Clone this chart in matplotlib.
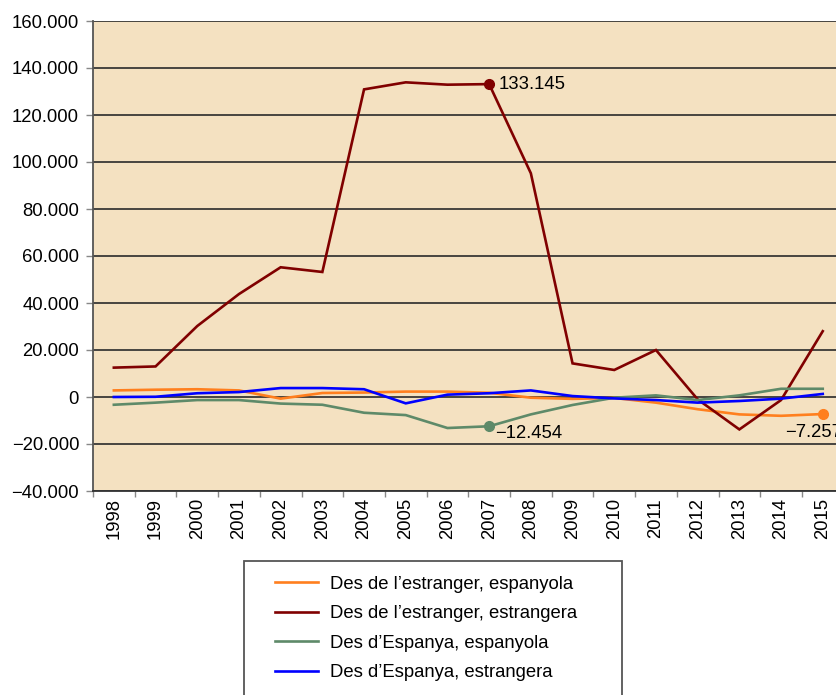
import matplotlib
matplotlib.use("Agg")
import matplotlib.pyplot as plt
from matplotlib.ticker import FuncFormatter, FixedLocator
from matplotlib.patches import Rectangle
from matplotlib.lines import Line2D

plt.rcParams['font.family'] = ['Liberation Sans', 'DejaVu Sans']

years = ['1998', '1999', '2000', '2001', '2002', '2003', '2004', '2005', '2006',
         '2007', '2008', '2009', '2010', '2011', '2012', '2013', '2014', '2015']

estranger_espanyola = [2800, 3100, 3300, 2800, -700, 1700, 1900, 2300, 2300,
                       1800, -300, -800, -400, -2400, -5200, -7400, -8000, -7257]
estranger_estrangera = [12500, 13000, 30200, 43800, 55200, 53200, 130900, 133900, 132900,
                        133145, 95200, 14300, 11500, 20000, -1000, -13800, -1300, 28000]
espanya_espanyola = [-3300, -2400, -1300, -1300, -2800, -3300, -6700, -7700, -13200,
                     -12454, -7400, -3400, -300, 700, -1300, 700, 3500, 3500]
espanya_estrangera = [0, 100, 1600, 2100, 3800, 3800, 3300, -2700, 1000,
                      1600, 2800, 400, -600, -1300, -2400, -1700, -700, 1300]

series_names = ['Des de l’estranger, espanyola', 'Des de l’estranger, estrangera',
                'Des d’Espanya, espanyola', 'Des d’Espanya, estrangera']
series_values = [estranger_espanyola, estranger_estrangera, espanya_espanyola, espanya_estrangera]
colors = ['#FF7F1E', '#800000', '#5E8A69', '#0000FF']

FS = 13.3
W, H = 836, 695
fig = plt.figure(figsize=(W / 100, H / 100), dpi=100)
fig.patch.set_facecolor('white')

left, right, top, bottom = 93, 843.6, 21, 491
ax = fig.add_axes([left / W, 1 - bottom / H, (right - left) / W, (bottom - top) / H])
ax.set_facecolor('#F4E1C1')

x = list(range(len(years)))
for vals, c, name in zip(series_values, colors, series_names):
    ax.plot(x, vals, color=c, lw=1.9, label=name, solid_joinstyle='miter', zorder=3)

ax.set_xlim(-0.5, len(years) - 0.5)
ax.set_ylim(-40000, 160000)
ax.set_yticks(range(-40000, 160001, 20000))

def fmt(v, pos):
    s = f"{abs(int(round(v))):,}".replace(',', '.')
    return ('−' + s) if v < 0 else s
ax.yaxis.set_major_formatter(FuncFormatter(fmt))
ax.grid(axis='y', color='#2a2a2a', lw=1.2, zorder=1)
ax.set_axisbelow(True)

ax.set_xticks(x)
ax.set_xticklabels(years, rotation=90)
ax.xaxis.set_minor_locator(FixedLocator([i - 0.5 for i in range(len(years) + 1)]))
ax.tick_params(axis='x', which='major', length=0, pad=5, labelsize=FS)
ax.tick_params(axis='x', which='minor', length=4, color='#888888', width=1)
ax.tick_params(axis='y', length=5, color='#888888', width=1, pad=5, labelsize=FS)

for s in ['top', 'right']:
    ax.spines[s].set_visible(False)
ax.spines['left'].set_color('#555555')
ax.spines['left'].set_linewidth(1.3)
ax.spines['bottom'].set_color('#333333')
ax.spines['bottom'].set_linewidth(1.3)

# highlighted points
i07 = years.index('2007')
i15 = years.index('2015')
ax.plot(x[i07], estranger_estrangera[i07], 'o', color=colors[1], ms=7, zorder=4)
ax.annotate(fmt(estranger_estrangera[i07], None), (x[i07], estranger_estrangera[i07]),
            xytext=(7, 0), textcoords='offset points', va='center', ha='left', fontsize=FS)
ax.plot(x[i07], espanya_espanyola[i07], 'o', color=colors[2], ms=7, zorder=4)
ax.annotate(fmt(espanya_espanyola[i07], None), (x[i07], espanya_espanyola[i07]),
            xytext=(4, -5.5), textcoords='offset points', va='center', ha='left', fontsize=FS)
ax.plot(x[i15], estranger_espanyola[i15], 'o', color=colors[0], ms=7, zorder=4)
ax.annotate(fmt(estranger_espanyola[i15], None), (x[i15], estranger_espanyola[i15]),
            xytext=(-27, -13.5), textcoords='offset points', va='center', ha='left', fontsize=FS)

# legend box
fig.patches.append(Rectangle((244 / W, -0.02), (622 - 244) / W, 1 - 561 / H + 0.02,
                             transform=fig.transFigure, fill=False, edgecolor='#555555',
                             lw=1.3, clip_on=False))
handles = [Line2D([], [], color=c, lw=1.9) for c in colors]
fig.legend(handles, series_names, loc='upper left', bbox_to_anchor=(269.5 / W, 1 - 570 / H),
           frameon=False, fontsize=FS, handlelength=2.3, handletextpad=0.65,
           labelspacing=0.68, borderaxespad=0, borderpad=0.3)

fig.savefig('out.png', dpi=100)
